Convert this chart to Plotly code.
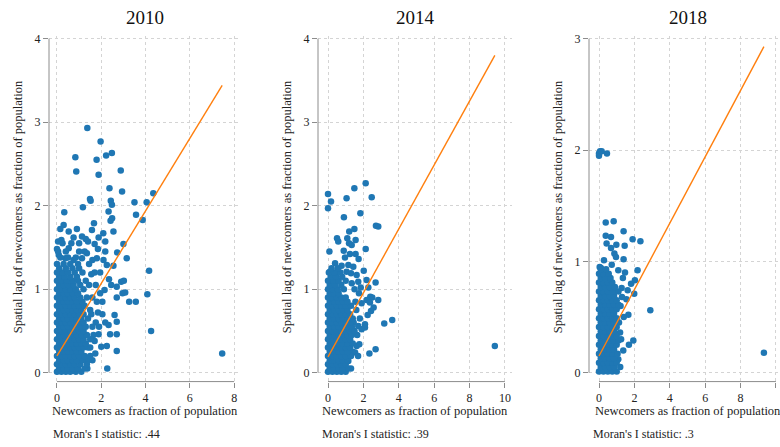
import plotly.graph_objects as go

# ---------------- data ----------------
years = ["2010", "2014", "2018"]
moran = [".44", ".39", ".3"]

# scattered points outside the dense cores: (x, y)
outer_2010 = [
    (1.37, 2.93), (1.97, 2.77), (0.83, 2.58), (0.87, 2.41), (1.79, 2.55), (2.22, 2.60),
    (2.48, 2.63), (1.88, 2.37), (2.88, 2.42), (2.37, 2.21), (2.94, 2.17), (1.49, 2.08),
    (1.52, 2.06), (2.43, 2.06), (2.48, 2.01), (1.17, 1.98), (3.50, 2.04), (4.05, 2.04),
    (4.35, 2.15), (0.33, 1.92), (2.33, 1.93), (3.57, 1.89), (3.87, 1.83), (2.49, 1.85),
    (2.42, 1.82), (1.67, 1.79), (0.30, 1.77), (0.15, 1.72), (0.90, 1.72), (0.53, 1.69),
    (1.58, 1.71), (2.09, 1.67), (2.55, 1.69), (1.13, 1.63), (1.40, 1.57), (1.88, 1.62),
    (1.70, 1.54), (2.18, 1.57), (3.00, 1.54), (0.05, 1.57), (0.20, 1.59), (0.00, 1.48),
    (0.53, 1.49), (1.00, 1.45), (1.35, 1.43), (2.18, 1.45), (2.72, 1.44), (3.15, 1.37),
    (0.08, 1.41), (0.38, 1.37), (0.75, 1.35), (1.13, 1.37), (1.80, 1.37), (2.25, 1.29),
    (2.55, 1.28), (4.16, 1.22), (2.90, 1.09), (3.02, 1.10), (2.45, 1.05),
    (2.70, 1.03), (2.15, 0.99), (2.96, 0.95), (3.08, 0.96), (4.08, 0.94), (2.70, 0.90),
    (3.26, 0.85), (3.56, 0.85), (2.60, 0.69), (2.70, 0.61), (2.18, 0.60), (2.33, 0.57),
    (4.25, 0.50), (1.88, 0.46), (2.40, 0.46), (2.70, 0.46), (2.25, 0.32), (2.00, 0.31),
    (2.70, 0.26), (1.73, 0.23), (1.37, 0.05), (2.27, 0.05), (7.46, 0.23),
    (1.95, 1.20), (1.75, 1.05), (2.05, 0.85), (1.85, 0.72), (1.95, 0.95), (2.10, 1.35),
    (1.90, 0.55), (1.70, 0.38), (1.60, 0.15), (1.85, 1.48), (2.35, 1.12), (2.05, 0.70),
    (1.45, 1.05), (1.60, 0.90), (1.55, 0.70), (1.75, 0.60), (1.50, 0.30), (1.65, 0.45),
    (1.40, 0.15), (1.70, 1.20), (1.45, 1.30), (1.25, 1.45), (1.00, 1.55), (0.75, 1.62),
    (1.30, 1.60), (1.55, 1.18), (1.80, 0.85), (1.60, 1.35),
]

outer_2014 = [
    (0.00, 2.14), (0.17, 2.05), (0.00, 1.97), (1.49, 2.21), (2.13, 2.27), (1.05, 2.09),
    (2.47, 2.10), (0.90, 1.86), (1.83, 1.91), (2.71, 1.76), (2.84, 1.75), (1.20, 1.69),
    (1.49, 1.72), (0.51, 1.61), (0.58, 1.57), (1.09, 1.61), (1.56, 1.59), (1.19, 1.55),
    (1.34, 1.53), (0.08, 1.45), (0.89, 1.46), (2.13, 1.48), (1.24, 1.42), (1.56, 1.42),
    (0.96, 1.38), (1.73, 1.36), (0.40, 1.31), (0.77, 1.28), (1.15, 1.29), (1.43, 1.27),
    (2.02, 1.22), (0.11, 1.21), (0.58, 1.21), (1.05, 1.21), (1.30, 1.19), (1.62, 1.17),
    (2.18, 1.11), (2.69, 1.08), (1.71, 1.09), (1.34, 1.07), (2.28, 1.02), (2.39, 0.91),
    (2.50, 0.90), (2.84, 0.87), (2.18, 0.87), (2.37, 0.84), (2.58, 0.78), (1.90, 0.83),
    (2.24, 0.69), (2.43, 0.74), (3.63, 0.63), (3.18, 0.59), (2.09, 0.58), (2.09, 0.54),
    (1.71, 0.56), (1.90, 0.52), (1.62, 0.32), (1.77, 0.34), (1.53, 0.24), (2.34, 0.23),
    (2.69, 0.28), (1.15, 0.14), (0.77, 0.02), (9.43, 0.32),
    (1.75, 0.95), (1.60, 0.75), (1.80, 0.65), (1.65, 0.45), (1.50, 1.00), (1.85, 1.02),
    (1.55, 0.85), (1.45, 0.60), (1.40, 0.25), (1.30, 0.05), (1.70, 0.20),
]

outer_2018 = [
    (0.00, 1.97), (0.06, 1.99), (0.00, 1.95), (0.15, 1.99), (0.45, 1.97), (0.38, 1.35),
    (0.83, 1.36), (1.39, 1.27), (0.38, 1.23), (0.68, 1.22), (1.90, 1.20), (2.34, 1.18),
    (0.43, 1.16), (0.98, 1.15), (0.68, 1.12), (1.45, 1.14), (0.87, 1.07), (0.28, 1.01),
    (0.96, 1.04), (1.39, 1.02), (0.04, 0.95), (0.11, 0.94), (2.18, 0.92), (0.72, 0.97),
    (1.09, 0.92), (1.47, 0.90), (2.03, 0.83), (1.81, 0.80), (1.62, 0.74), (1.28, 0.76),
    (1.99, 0.71), (2.90, 0.56), (1.22, 0.60), (1.66, 0.52), (1.13, 0.45), (1.19, 0.36),
    (1.94, 0.29), (1.69, 0.25), (1.37, 0.20), (1.09, 0.12), (9.32, 0.18),
    (1.35, 0.85), (1.55, 0.66), (1.40, 0.50), (1.25, 0.30), (1.30, 0.68), (1.20, 0.05),
]

# dense cores, row by row: (y, [x values along that row])
core_2010 = [
    (0.01, [0.0, 0.2, 0.4, 0.6, 0.85, 1.1]),
    (0.05, [0.1, 0.3, 0.5, 0.7, 0.95, 1.25]),
    (0.10, [0.0, 0.2, 0.4, 0.6, 0.8, 1.05, 1.35]),
    (0.15, [0.1, 0.3, 0.5, 0.7, 0.9, 1.15]),
    (0.20, [0.0, 0.2, 0.4, 0.6, 0.8, 1.0, 1.25, 1.5]),
    (0.25, [0.1, 0.3, 0.5, 0.7, 0.9, 1.1]),
    (0.30, [0.0, 0.2, 0.4, 0.6, 0.8, 1.0, 1.2, 1.4]),
    (0.35, [0.1, 0.3, 0.5, 0.7, 0.9, 1.1, 1.3]),
    (0.40, [0.0, 0.2, 0.4, 0.6, 0.8, 1.0, 1.2, 1.5]),
    (0.45, [0.1, 0.3, 0.5, 0.7, 0.9, 1.1, 1.35]),
    (0.50, [0.0, 0.2, 0.4, 0.6, 0.8, 1.0, 1.2]),
    (0.55, [0.1, 0.3, 0.5, 0.7, 0.9, 1.1, 1.3, 1.6]),
    (0.60, [0.0, 0.2, 0.4, 0.6, 0.8, 1.0, 1.2]),
    (0.65, [0.1, 0.3, 0.5, 0.7, 0.9, 1.1, 1.4]),
    (0.70, [0.0, 0.2, 0.4, 0.6, 0.8, 1.0, 1.2]),
    (0.75, [0.1, 0.3, 0.5, 0.7, 0.9, 1.1, 1.5]),
    (0.80, [0.0, 0.2, 0.4, 0.6, 0.8, 1.0, 1.25]),
    (0.85, [0.1, 0.3, 0.5, 0.7, 0.9, 1.15]),
    (0.90, [0.0, 0.2, 0.4, 0.6, 0.8, 1.05, 1.35]),
    (0.95, [0.1, 0.3, 0.5, 0.7, 0.95]),
    (1.00, [0.0, 0.2, 0.4, 0.6, 0.85, 1.2]),
    (1.05, [0.1, 0.3, 0.5, 0.75, 1.05]),
    (1.10, [0.0, 0.2, 0.45, 0.7, 0.95, 1.3]),
    (1.15, [0.1, 0.35, 0.6, 0.9]),
    (1.20, [0.0, 0.25, 0.5, 0.8, 1.15]),
    (1.25, [0.1, 0.4, 0.7, 1.0]),
    (1.30, [0.0, 0.3, 0.6, 0.95]),
    (1.38, [0.15, 0.5, 0.85]),
    (1.45, [0.05, 0.4]),
    (1.55, [0.25, 0.65]),
]

core_2014 = [
    (0.01, [0.0, 0.25, 0.5, 0.75, 1.0]),
    (0.05, [0.1, 0.35, 0.6, 0.85, 1.15]),
    (0.10, [0.0, 0.25, 0.5, 0.75, 1.0]),
    (0.15, [0.1, 0.35, 0.6, 0.85, 1.1]),
    (0.20, [0.0, 0.25, 0.5, 0.75, 1.0, 1.3]),
    (0.25, [0.1, 0.35, 0.6, 0.85, 1.1]),
    (0.30, [0.0, 0.25, 0.5, 0.75, 1.0, 1.25]),
    (0.35, [0.1, 0.35, 0.6, 0.85, 1.1, 1.4]),
    (0.40, [0.0, 0.25, 0.5, 0.75, 1.0, 1.25]),
    (0.45, [0.1, 0.35, 0.6, 0.85, 1.1, 1.35]),
    (0.50, [0.0, 0.25, 0.5, 0.75, 1.0, 1.25, 1.5]),
    (0.55, [0.1, 0.35, 0.6, 0.85, 1.1, 1.35]),
    (0.60, [0.0, 0.25, 0.5, 0.75, 1.0, 1.25]),
    (0.65, [0.1, 0.35, 0.6, 0.85, 1.1, 1.4]),
    (0.70, [0.0, 0.25, 0.5, 0.75, 1.0, 1.25]),
    (0.75, [0.1, 0.35, 0.6, 0.85, 1.1]),
    (0.80, [0.0, 0.25, 0.5, 0.75, 1.0, 1.3]),
    (0.85, [0.1, 0.35, 0.6, 0.85, 1.1]),
    (0.90, [0.0, 0.25, 0.5, 0.75, 1.0]),
    (0.95, [0.1, 0.35, 0.6]),
    (1.00, [0.0, 0.25, 0.55, 0.9]),
    (1.05, [0.1, 0.4, 0.75]),
    (1.10, [0.0, 0.3, 0.6, 1.0]),
    (1.15, [0.15, 0.45, 0.8]),
    (1.20, [0.05, 0.35, 0.7]),
    (1.25, [0.2, 0.55]),
]

core_2018 = [
    (0.01, [0.0, 0.25, 0.5, 0.75, 1.0]),
    (0.05, [0.1, 0.35, 0.6, 0.85]),
    (0.09, [0.0, 0.25, 0.5, 0.75, 1.0]),
    (0.13, [0.1, 0.35, 0.6, 0.85]),
    (0.17, [0.0, 0.25, 0.5, 0.75, 1.05]),
    (0.21, [0.1, 0.35, 0.6, 0.85]),
    (0.25, [0.0, 0.25, 0.5, 0.75, 1.0]),
    (0.29, [0.1, 0.35, 0.6, 0.85, 1.1]),
    (0.33, [0.0, 0.25, 0.5, 0.75, 1.0]),
    (0.37, [0.1, 0.35, 0.6, 0.85]),
    (0.41, [0.0, 0.25, 0.5, 0.75, 1.0]),
    (0.45, [0.1, 0.35, 0.6, 0.85]),
    (0.49, [0.0, 0.25, 0.5, 0.75, 1.0]),
    (0.53, [0.1, 0.35, 0.6, 0.85]),
    (0.57, [0.0, 0.25, 0.5, 0.75, 1.0]),
    (0.61, [0.1, 0.35, 0.6, 0.85, 1.1]),
    (0.65, [0.0, 0.25, 0.5, 0.75, 1.0]),
    (0.69, [0.1, 0.35, 0.6, 0.85]),
    (0.73, [0.0, 0.25, 0.5, 0.8, 1.1]),
    (0.77, [0.1, 0.35, 0.6, 0.9]),
    (0.81, [0.0, 0.25, 0.5, 0.75]),
    (0.85, [0.1, 0.35, 0.65]),
    (0.89, [0.0, 0.25, 0.55]),
    (0.93, [0.1, 0.4]),
]

# fitted lines (end points)
fit_x = [[0.0, 7.46], [0.0, 9.43], [0.0, 9.32]]
fit_y = [[0.20, 3.44], [0.19, 3.80], [0.15, 2.93]]

x_ticks = [[0, 2, 4, 6, 8], [0, 2, 4, 6, 8, 10], [0, 2, 4, 6, 8, 10]]
y_ticks = [[0, 1, 2, 3, 4], [0, 1, 2, 3, 4], [0, 1, 2, 3]]

# ---------------- layout constants ----------------
W, H = 780, 447
BLUE = "#1f77b4"
ORANGE = "#ff7f0e"
FONT = "Georgia, 'Liberation Serif', 'DejaVu Serif', serif"
AXC = "#8c8c8c"
GRIDC = "#d4d4d4"

x_dom_px = [(49, 241), (318, 512), (589, 780)]
y_dom_px = (32, 381)  # top, bottom
x_ranges = [[-0.36, 8.31], [-0.565, 10.4], [-0.565, 10.23]]
y_ranges = [[-0.107, 4.036], [-0.107, 4.036], [-0.08, 3.028]]
centers = [145, 415, 688]

outers = [outer_2010, outer_2014, outer_2018]
cores = [core_2010, core_2014, core_2018]

fig = go.Figure()
shapes = []
annotations = []
for i in range(3):
    suf = "" if i == 0 else str(i + 1)
    xa, ya = "x" + suf, "y" + suf
    xs = [p[0] for p in outers[i]]
    ys = [p[1] for p in outers[i]]
    for yv, row in cores[i]:
        xs.extend(row)
        ys.extend([yv] * len(row))
    fig.add_trace(go.Scatter(x=xs, y=ys, mode="markers", xaxis=xa, yaxis=ya,
                             marker=dict(color=BLUE, size=6.5, line=dict(width=0)),
                             showlegend=False, hoverinfo="x+y"))
    fig.add_trace(go.Scatter(x=fit_x[i], y=fit_y[i], mode="lines", xaxis=xa, yaxis=ya,
                             line=dict(color=ORANGE, width=1.4),
                             showlegend=False))
    dom_x = [x_dom_px[i][0] / W, x_dom_px[i][1] / W]
    dom_y = [1 - y_dom_px[1] / H, 1 - y_dom_px[0] / H]
    common = dict(showline=False, zeroline=False, showgrid=True, gridcolor=GRIDC,
                  griddash="dot", gridwidth=1, ticks="outside", ticklen=5,
                  tickcolor=AXC, tickwidth=1,
                  tickfont=dict(family=FONT, size=12, color="#222"))
    fig.update_layout(**{
        "xaxis" + suf: dict(domain=dom_x, range=x_ranges[i], anchor=ya,
                            tickvals=x_ticks[i], **common),
        "yaxis" + suf: dict(domain=dom_y, range=y_ranges[i], anchor=xa,
                            tickvals=y_ticks[i], **common),
    })
    # Stata-style axis lines spanning only the tick range
    shapes.append(dict(type="line", xref=xa + " domain", yref=ya,
                       x0=0, x1=0, y0=y_ticks[i][0], y1=y_ticks[i][-1],
                       line=dict(color=AXC, width=1)))
    shapes.append(dict(type="line", xref=xa, yref=ya + " domain",
                       x0=x_ticks[i][0], x1=x_ticks[i][-1], y0=0, y1=0,
                       line=dict(color=AXC, width=1)))
    # titles and notes
    annotations.append(dict(text=years[i], x=centers[i] / W, y=1 - 14 / H,
                            xref="paper", yref="paper", showarrow=False,
                            xanchor="center", yanchor="middle",
                            font=dict(family=FONT, size=19, color="#111")))
    annotations.append(dict(text="Newcomers as fraction of population",
                            x=centers[i] / W, y=1 - 411 / H, xref="paper", yref="paper",
                            showarrow=False, xanchor="center", yanchor="middle",
                            font=dict(family=FONT, size=12.5, color="#222")))
    annotations.append(dict(text="Moran's I statistic: " + moran[i],
                            x=(x_dom_px[i][0] + 2) / W, y=1 - 434 / H,
                            xref="paper", yref="paper", showarrow=False,
                            xanchor="left", yanchor="middle",
                            font=dict(family=FONT, size=12, color="#222")))
    annotations.append(dict(text="Spatial lag of newcomers as fraction of population",
                            x=(x_dom_px[i][0] - 31) / W, y=1 - 205 / H,
                            xref="paper", yref="paper", showarrow=False,
                            textangle=-90, xanchor="center", yanchor="middle",
                            font=dict(family=FONT, size=12.5, color="#222")))

fig.update_layout(width=W, height=H, margin=dict(l=0, r=0, t=0, b=0),
                  paper_bgcolor="white", plot_bgcolor="white",
                  shapes=shapes, annotations=annotations, showlegend=False)

fig.write_html("out.html",
               config={"displayModeBar": False},
               post_script="document.documentElement.style.margin='0';"
                           "document.body.style.margin='0';"
                           "document.body.style.padding='0';"
                           "document.body.style.overflow='hidden';")
